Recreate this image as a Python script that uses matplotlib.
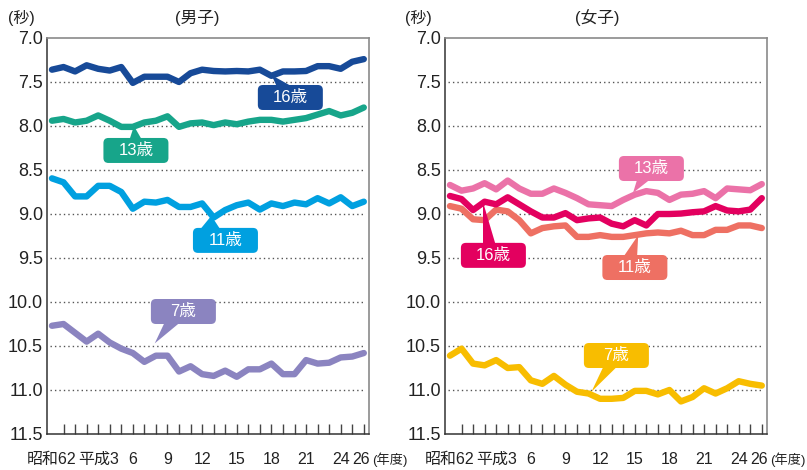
import matplotlib
matplotlib.use("Agg")
import matplotlib.pyplot as plt
from matplotlib.patches import FancyBboxPatch, Polygon
from matplotlib.transforms import ScaledTranslation, blended_transform_factory

plt.rcParams['font.family'] = ['Liberation Sans', 'Noto Sans CJK JP']

years = list(range(1987, 2015))
tick_years = [1987, 1991, 1994, 1997, 2000, 2003, 2006, 2009, 2012, 2014]
tick_labels = ['昭和62', '平成3', '6', '9', '12', '15', '18', '21', '24', '26']
y_ticks = [7.0, 7.5, 8.0, 8.5, 9.0, 9.5, 10.0, 10.5, 11.0, 11.5]

boys_16 = [7.36, 7.33, 7.38, 7.31, 7.35, 7.37, 7.33, 7.51, 7.44, 7.44, 7.44, 7.50, 7.40, 7.36,
           7.375, 7.38, 7.375, 7.38, 7.36, 7.43, 7.38, 7.38, 7.375, 7.32, 7.32, 7.35, 7.27, 7.24]
boys_13 = [7.94, 7.92, 7.96, 7.94, 7.88, 7.94, 8.01, 8.01, 7.96, 7.94, 7.89, 8.01, 7.97, 7.96,
           7.99, 7.96, 7.98, 7.95, 7.93, 7.93, 7.95, 7.93, 7.91, 7.87, 7.83, 7.88, 7.85, 7.79]
boys_11 = [8.595, 8.64, 8.80, 8.80, 8.68, 8.68, 8.75, 8.94, 8.86, 8.87, 8.84, 8.92, 8.92, 8.88,
           9.04, 8.955, 8.90, 8.87, 8.95, 8.88, 8.91, 8.87, 8.89, 8.82, 8.88, 8.81, 8.91, 8.86]
boys_7 = [10.27, 10.25, 10.35, 10.45, 10.36, 10.46, 10.53, 10.58, 10.68, 10.61, 10.61, 10.79, 10.73, 10.82,
          10.84, 10.78, 10.85, 10.765, 10.765, 10.70, 10.82, 10.82, 10.66, 10.70, 10.69, 10.63, 10.62, 10.58]

girls_13 = [8.67, 8.735, 8.71, 8.65, 8.72, 8.62, 8.71, 8.77, 8.77, 8.71, 8.76, 8.82, 8.89, 8.90,
            8.91, 8.84, 8.78, 8.74, 8.76, 8.84, 8.78, 8.77, 8.74, 8.82, 8.71, 8.72, 8.73, 8.66]
girls_16 = [8.795, 8.83, 8.955, 8.86, 8.89, 8.81, 8.89, 8.97, 9.04, 9.04, 8.99, 9.07, 9.05, 9.04,
            9.11, 9.14, 9.07, 9.13, 9.00, 9.00, 8.995, 8.98, 8.97, 8.91, 8.96, 8.97, 8.95, 8.82]
girls_11 = [8.91, 8.94, 9.06, 9.07, 8.95, 8.97, 9.07, 9.22, 9.16, 9.14, 9.13, 9.26, 9.26, 9.24,
            9.26, 9.26, 9.24, 9.22, 9.21, 9.22, 9.19, 9.24, 9.24, 9.18, 9.18, 9.13, 9.13, 9.16]
girls_7 = [10.61, 10.53, 10.70, 10.72, 10.66, 10.75, 10.74, 10.89, 10.93, 10.84, 10.94, 11.02, 11.04, 11.10,
           11.10, 11.09, 11.01, 11.01, 11.05, 11.00, 11.13, 11.08, 10.98, 11.04, 10.98, 10.90, 10.93, 10.95]

C_B16, C_B13, C_B11, C_B7 = '#174a98', '#17a58a', '#00a0e0', '#8b84c0'
C_G13, C_G16, C_G11, C_G7 = '#eb72a8', '#e3005f', '#ee7063', '#f8bd00'

W, H = 807, 470
fig = plt.figure(figsize=(W / 100, H / 100), dpi=100)
ax1 = fig.add_axes([47 / W, 1 - 434 / H, 322 / W, 396 / H])
ax2 = fig.add_axes([445 / W, 1 - 434 / H, 322 / W, 396 / H])


def style(ax):
    ax.set_xlim(1986.57, 2014.45)
    ax.set_ylim(11.5, 7.0)
    ax.set_yticks(y_ticks)
    ax.set_yticklabels([f'{v:.1f}' for v in y_ticks], fontsize=13, color='#222')
    ax.tick_params(axis='y', length=0, pad=3)
    ax.set_xticks(years[1:])
    ax.set_xticklabels([])
    ax.tick_params(axis='x', direction='in', length=7, width=1, color='#444')
    lab_y = 11.5 + 0.29
    for y, lab in zip(tick_years, tick_labels):
        xpos = y - 0.25 if y == tick_years[-1] else y
        ax.text(xpos, lab_y, lab, ha='center', va='center', fontsize=11.5, color='#222')
    tr = blended_transform_factory(ax.transAxes, ax.transData)
    ax.text(1.009, lab_y, '(年度)', transform=tr, ha='left', va='center',
            fontsize=9.5, color='#222', clip_on=False)
    for v in y_ticks[1:-1]:
        ax.axhline(v, xmin=0.01, xmax=0.985, color='#555', lw=1, ls=(0, (1, 2.2)), zorder=1)
    for s in ['top', 'right']:
        ax.spines[s].set_color('#8a8a8a')
        ax.spines[s].set_linewidth(1.2)
    for s in ['left', 'bottom']:
        ax.spines[s].set_color('#333')
        ax.spines[s].set_linewidth(1.1)


def line(ax, vals, color):
    ax.plot(years, vals, color=color, lw=4.6, solid_joinstyle='round', solid_capstyle='round', zorder=3,
            clip_on=False)


def label(ax, xc, yc, text, color, tip, base):
    trans = fig.dpi_scale_trans + ScaledTranslation(xc, yc, ax.transData)
    w, h = 0.65, 0.25
    ax.add_patch(FancyBboxPatch((-w / 2, -h / 2), w, h, boxstyle='round,pad=0,rounding_size=0.05',
                                transform=trans, fc=color, ec='none', zorder=5, clip_on=False))
    ax.add_patch(Polygon([tip, base[0], base[1]], closed=True, fc=color, ec='none', zorder=5))
    ax.text(xc, yc, text, ha='center', va='center', color='white', fontsize=12, zorder=6)


style(ax1)
style(ax2)

line(ax1, boys_16, C_B16)
line(ax1, boys_13, C_B13)
line(ax1, boys_11, C_B11)
line(ax1, boys_7, C_B7)

line(ax2, girls_13, C_G13)
line(ax2, girls_11, C_G11)
line(ax2, girls_16, C_G16)
line(ax2, girls_7, C_G7)

label(ax1, 2007.64, 7.676, '16歳', C_B16, (2006.0, 7.42), [(2006.5, 7.56), (2007.9, 7.56)])
label(ax1, 1994.27, 8.278, '13歳', C_B13, (1994.1, 8.0), [(1993.7, 8.16), (1994.8, 8.16)])
label(ax1, 2002.02, 9.30, '11歳', C_B11, (2000.8, 9.02), [(1999.8, 9.18), (2001.6, 9.18)])
label(ax1, 1998.38, 10.108, '7歳', C_B7, (1995.9, 10.47), [(1996.8, 10.22), (1998.2, 10.22)])

label(ax2, 2004.44, 8.483, '13歳', C_G13, (2002.85, 8.76), [(2003.2, 8.61), (2004.3, 8.61)])
label(ax2, 1990.76, 9.47, '16歳', C_G16, (1989.9, 8.86), [(1989.9, 9.36), (1991.0, 9.36)])
label(ax2, 2003.01, 9.608, '11歳', C_G11, (2003.3, 9.24), [(2002.0, 9.49), (2003.2, 9.49)])
label(ax2, 2001.41, 10.608, '7歳', C_G7, (1999.25, 11.02), [(2000.3, 10.73), (2001.5, 10.73)])

fig.text(21 / W, 1 - 18 / H, '(秒)', ha='center', va='center', fontsize=11.5, color='#222')
fig.text(197 / W, 1 - 18 / H, '(男子)', ha='center', va='center', fontsize=12, color='#222')
fig.text(418 / W, 1 - 18 / H, '(秒)', ha='center', va='center', fontsize=11.5, color='#222')
fig.text(597 / W, 1 - 18 / H, '(女子)', ha='center', va='center', fontsize=12, color='#222')

fig.savefig('out.png', dpi=100)
